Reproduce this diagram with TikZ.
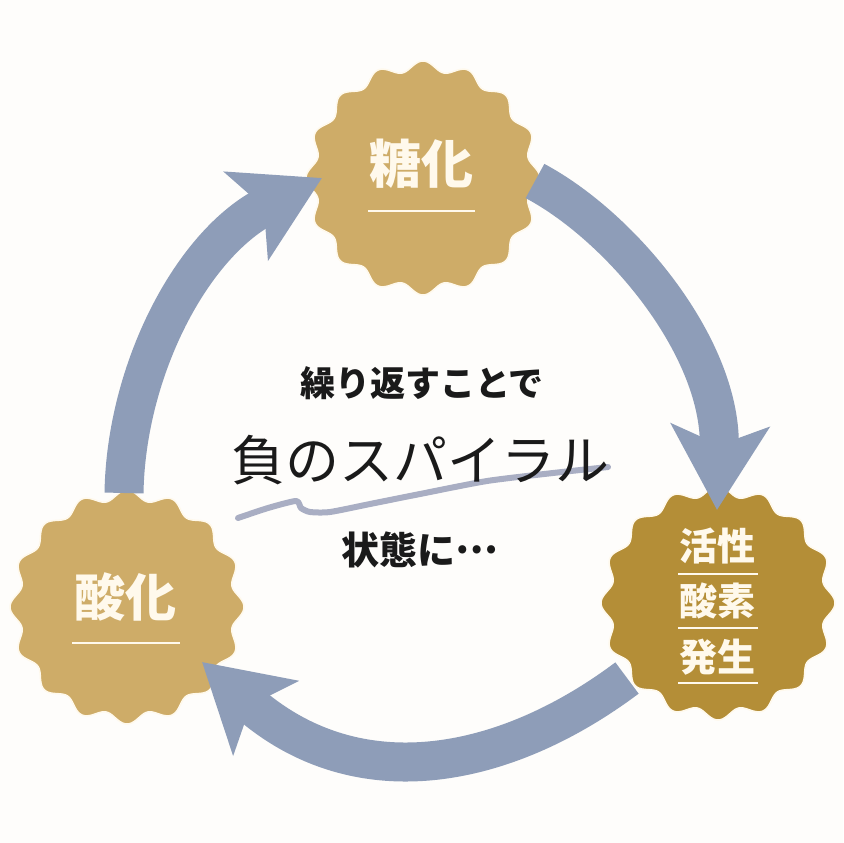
\documentclass[tikz,border=0pt]{standalone}
\usepackage{fontspec}
\newfontfamily\jp{Noto Sans CJK JP}
\usetikzlibrary{arrows.meta}
\definecolor{bg}{HTML}{FEFDFB}
\definecolor{gold}{HTML}{CEAC68}
\definecolor{dgold}{HTML}{B48E37}
\definecolor{cream}{HTML}{FFF9EC}
\definecolor{arrowc}{HTML}{8E9DB8}
\definecolor{brush}{HTML}{A9AEC3}
\definecolor{ink}{HTML}{1A1A1A}
\newcommand\scallop[3]{%
  \fill[#3, draw=cream, line width=1.5pt]
    plot[domain=0:360, samples=321, variable=\t]
    ({#1+(112+5*cos(16*\t))*cos(\t)}, {#2+(112+5*cos(16*\t))*sin(\t)}) -- cycle;}
\tikzset{
  arr/.style={line width=39pt, draw=arrowc,
    -{Stealth[length=84pt,width=97pt,inset=19pt]}},
  btxt/.style={text=cream, inner sep=0pt},
  uline/.style={draw=cream, line width=2.5pt},
  ctxt/.style={text=ink, inner sep=0pt}
}
\begin{document}
\begin{tikzpicture}[x=1pt,y=-1pt]
\fill[bg] (0,0) rectangle (843,843);
\useasboundingbox (0,0) rectangle (843,843);

% badges
\scallop{423}{178}{gold}
\scallop{127}{607}{gold}
\scallop{718}{603}{dgold}

% arrows
\coordinate (a1s) at (124,493);
\coordinate (a1e) at (322,178);
\coordinate (a2s) at (535,181);
\coordinate (a2e) at (717,510);
\coordinate (a3s) at (627,678);
\coordinate (a3e) at (202,662);
\draw[arr] (a1s) .. controls (126,370) and (192,243) .. (a1e);
\draw[arr] (a2s) .. controls (623,228) and (723,350) .. (a2e);
\draw[arr] (a3s) .. controls (507,768) and (359,800) .. (a3e);

% badge texts
\node[btxt, font=\jp\bfseries\fontsize{52pt}{52pt}\selectfont] (toka) at (421,164) {糖化};
\draw[uline] (368,211) -- (475,211);
\node[btxt, font=\jp\bfseries\fontsize{51pt}{51pt}\selectfont] (sanka) at (125,597) {酸化};
\draw[uline] (72,643) -- (180,643);
\node[btxt, font=\jp\bfseries\fontsize{38pt}{38pt}\selectfont] (kasse) at (717,546) {活性};
\draw[uline] (678,574) -- (758,574);
\node[btxt, font=\jp\bfseries\fontsize{38pt}{38pt}\selectfont] (sanso) at (717,601) {酸素};
\draw[uline] (678,628) -- (758,628);
\node[btxt, font=\jp\bfseries\fontsize{38pt}{38pt}\selectfont] (hasse) at (717,657) {発生};
\draw[uline] (678,683) -- (758,683);

% brush stroke
\draw[brush, line width=6pt, line cap=round, line join=round]
  plot[smooth, tension=0.4] coordinates {(238,518) (268,508) (296,501) (301,508) (310,512) (330,512) (370,504) (420,494) (487,481) (553,473) (608,467)};

% centre texts
\node[ctxt, font=\jp\bfseries\fontsize{35pt}{35pt}\selectfont] (t1) at (422,383) {繰り返すことで};
\node[ctxt, font=\jp\fontsize{54pt}{54pt}\selectfont] (t2) at (420,460) {負のスパイラル};
\node[ctxt, font=\jp\bfseries\fontsize{38pt}{38pt}\selectfont] (t3) at (420,550) {状態に\raisebox{0.3em}{…}};
\end{tikzpicture}
\end{document}
